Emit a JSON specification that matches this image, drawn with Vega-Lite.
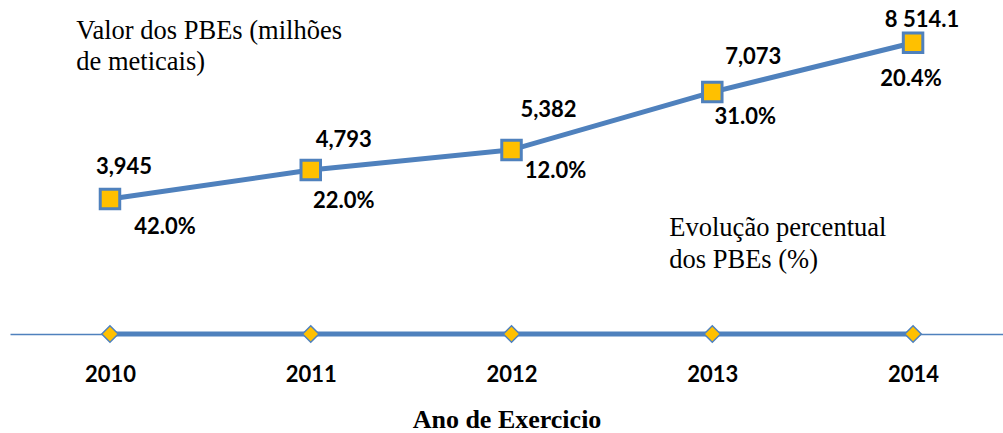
{
  "$schema": "https://vega.github.io/schema/vega-lite/v6.json",
  "autosize": "none",
  "width": 993,
  "height": 334,
  "padding": {"left": 10, "top": 0, "right": 0, "bottom": 99},
  "background": "white",
  "config": {"view": {"stroke": null}, "style": {"note": {"font": "Liberation Serif", "fontSize": 26.5}}},
  "datasets": {
    "pbe": [
      {"year": 2010, "value": 3945, "pct": 0.42, "valueLabel": "3,945", "pctLabel": "42.0%"},
      {"year": 2011, "value": 4793, "pct": 0.22, "valueLabel": "4,793", "pctLabel": "22.0%"},
      {"year": 2012, "value": 5382, "pct": 0.12, "valueLabel": "5,382", "pctLabel": "12.0%"},
      {"year": 2013, "value": 7073, "pct": 0.31, "valueLabel": "7,073", "pctLabel": "31.0%"},
      {"year": 2014, "value": 8514.1, "pct": 0.204, "valueLabel": "8 514.1", "pctLabel": "20.4%"}
    ],
    "notes": [
      {"note": "Valor dos PBEs (milhões", "nx": 2009.832, "ny": 8858},
      {"note": "de meticais)", "nx": 2009.832, "ny": 7952},
      {"note": "Evolução percentual", "nx": 2012.786, "ny": 3099},
      {"note": "dos PBEs (%)", "nx": 2012.786, "ny": 2164}
    ]
  },
  "data": {"name": "pbe"},
  "encoding": {
    "x": {
      "field": "year", "type": "quantitative",
      "scale": {"domain": [2009.502, 2014.448], "nice": false, "zero": false},
      "axis": {
        "values": [2010, 2011, 2012, 2013, 2014], "format": "d", "grid": false, "ticks": false,
        "domainColor": "#4F81BD", "domainWidth": 1.5,
        "labelFont": "Lato", "labelFontWeight": "bold", "labelFontSize": 22, "labelColor": "#000000",
        "labelPadding": 30,
        "title": "Ano de Exercicio", "titleFont": "Liberation Serif", "titleFontWeight": "bold",
        "titleFontSize": 26, "titleColor": "#000000", "titlePadding": 21
      }
    },
    "y": {
      "field": "value", "type": "quantitative",
      "scale": {"domain": [0, 9764.7], "nice": false, "zero": true},
      "axis": null
    }
  },
  "layer": [
    {"mark": {"type": "line", "color": "#4F81BD", "strokeWidth": 5}},
    {"mark": {"type": "line", "color": "#4F81BD", "strokeWidth": 5},
     "encoding": {"y": {"field": "pct", "type": "quantitative", "scale": {"domain": [0, 9764.7], "nice": false, "zero": true}, "axis": null}}},
    {"mark": {"type": "point", "shape": "square", "filled": true, "size": 380, "fill": "#FFC000", "stroke": "#4F81BD", "strokeWidth": 3, "opacity": 1}},
    {"mark": {"type": "point", "shape": "diamond", "filled": true, "size": 270, "fill": "#FFC000", "stroke": "#4F81BD", "strokeWidth": 1.5, "opacity": 1},
     "encoding": {"y": {"field": "pct", "type": "quantitative", "scale": {"domain": [0, 9764.7], "nice": false, "zero": true}, "axis": null}}},

    {"transform": [{"filter": "datum.year == 2010"}], "mark": {"type": "text", "font": "Lato", "fontWeight": "bold", "fontSize": 22, "color": "#000000", "align": "center", "baseline": "middle", "dx": 14, "dy": -32}, "encoding": {"text": {"field": "valueLabel"}}},
    {"transform": [{"filter": "datum.year == 2011"}], "mark": {"type": "text", "font": "Lato", "fontWeight": "bold", "fontSize": 22, "color": "#000000", "align": "center", "baseline": "middle", "dx": 33, "dy": -30}, "encoding": {"text": {"field": "valueLabel"}}},
    {"transform": [{"filter": "datum.year == 2012"}], "mark": {"type": "text", "font": "Lato", "fontWeight": "bold", "fontSize": 22, "color": "#000000", "align": "center", "baseline": "middle", "dx": 37, "dy": -40}, "encoding": {"text": {"field": "valueLabel"}}},
    {"transform": [{"filter": "datum.year == 2013"}], "mark": {"type": "text", "font": "Lato", "fontWeight": "bold", "fontSize": 22, "color": "#000000", "align": "center", "baseline": "middle", "dx": 41, "dy": -35}, "encoding": {"text": {"field": "valueLabel"}}},
    {"transform": [{"filter": "datum.year == 2014"}], "mark": {"type": "text", "font": "Lato", "fontWeight": "bold", "fontSize": 22, "color": "#000000", "align": "center", "baseline": "middle", "dx": 9, "dy": -23}, "encoding": {"text": {"field": "valueLabel"}}},

    {"transform": [{"filter": "datum.year == 2010"}], "mark": {"type": "text", "font": "Lato", "fontWeight": "bold", "fontSize": 22, "color": "#000000", "align": "center", "baseline": "middle", "dx": 55, "dy": 28}, "encoding": {"text": {"field": "pctLabel"}}},
    {"transform": [{"filter": "datum.year == 2011"}], "mark": {"type": "text", "font": "Lato", "fontWeight": "bold", "fontSize": 22, "color": "#000000", "align": "center", "baseline": "middle", "dx": 33, "dy": 31}, "encoding": {"text": {"field": "pctLabel"}}},
    {"transform": [{"filter": "datum.year == 2012"}], "mark": {"type": "text", "font": "Lato", "fontWeight": "bold", "fontSize": 22, "color": "#000000", "align": "center", "baseline": "middle", "dx": 44, "dy": 21}, "encoding": {"text": {"field": "pctLabel"}}},
    {"transform": [{"filter": "datum.year == 2013"}], "mark": {"type": "text", "font": "Lato", "fontWeight": "bold", "fontSize": 22, "color": "#000000", "align": "center", "baseline": "middle", "dx": 33, "dy": 25}, "encoding": {"text": {"field": "pctLabel"}}},
    {"transform": [{"filter": "datum.year == 2014"}], "mark": {"type": "text", "font": "Lato", "fontWeight": "bold", "fontSize": 22, "color": "#000000", "align": "center", "baseline": "middle", "dx": -2, "dy": 36}, "encoding": {"text": {"field": "pctLabel"}}},

    {"data": {"name": "notes"},
     "mark": {"type": "text", "style": "note", "color": "#000000", "align": "left", "baseline": "middle"},
     "encoding": {
       "x": {"field": "nx", "type": "quantitative", "scale": {"domain": [2009.502, 2014.448], "nice": false, "zero": false}},
       "y": {"field": "ny", "type": "quantitative", "scale": {"domain": [0, 9764.7], "nice": false, "zero": true}, "axis": null},
       "text": {"field": "note"}
     }}
  ]
}
